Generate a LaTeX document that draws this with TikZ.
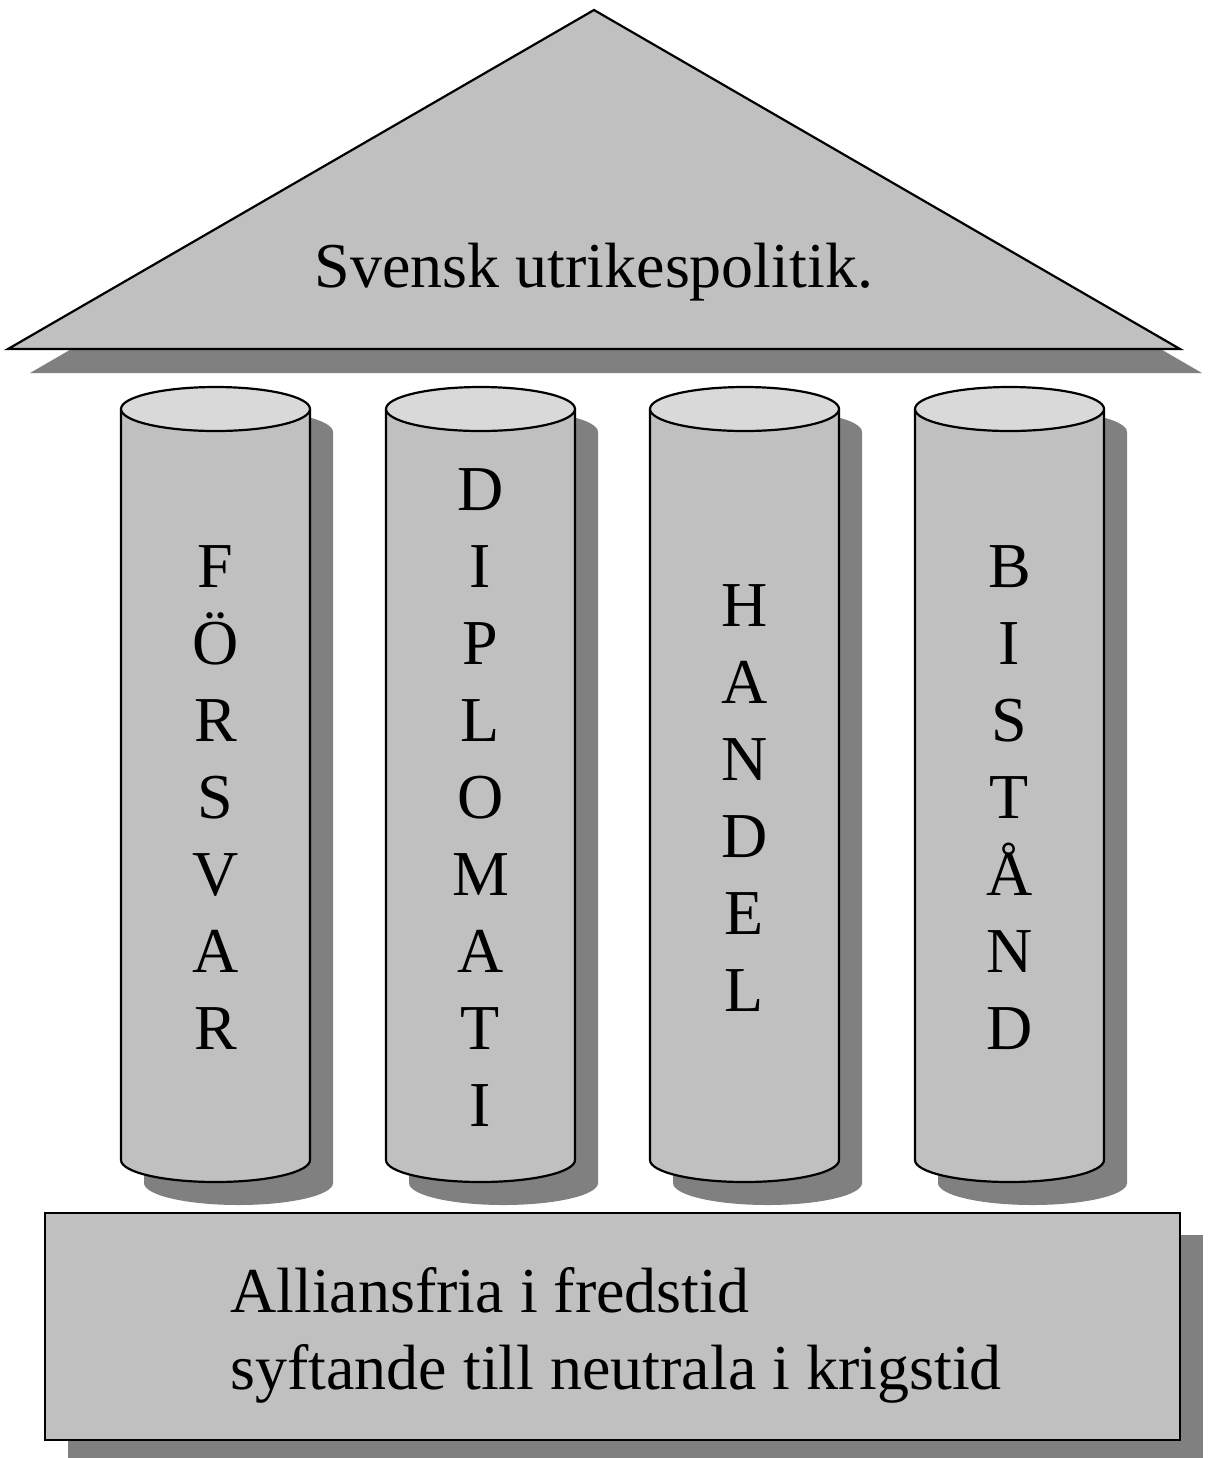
\documentclass[tikz,border=0pt]{standalone}
\usepackage{fontspec}
\setmainfont{Liberation Serif}
\definecolor{pelargra}{RGB}{192,192,192}
\definecolor{toppgra}{RGB}{217,217,217}
\definecolor{skugga}{RGB}{128,128,128}

\begin{document}
\begin{tikzpicture}[x=0.5pt,y=0.5pt,
    byggdel/.style={draw=black,line width=1.1pt,fill=pelargra},
    skuggdel/.style={fill=skugga},
    rubrik/.style={font=\fontsize{32}{38.5}\selectfont,inner sep=0pt}]
    \useasboundingbox (0,0) rectangle (1211,-1458);

    % taket
    \fill[skuggdel] (30,-373) -- (616,-34) -- (1202,-373) -- cycle;
    \draw[byggdel] (8,-349) -- (594,-10) -- (1180,-349) -- cycle;
    \node[rubrik,anchor=base] (tak) at (594,-287) {Svensk utrikespolitik.};

    % pelarna
    \foreach \x/\namn/\bokstaver in {215.5/forsvar/{F\\Ö\\R\\S\\V\\A\\R},
        480.5/diplomati/{D\\I\\P\\L\\O\\M\\A\\T\\I},
        744.5/handel/{H\\A\\N\\D\\E\\L},
        1009.5/bistand/{B\\I\\S\\T\\Å\\N\\D}}
    {
      \fill[skuggdel] (\x-71.5,-432) -- (\x-71.5,-1183)
        arc[start angle=180,end angle=360,x radius=94.5,y radius=22]
        -- (\x+117.5,-432)
        arc[start angle=0,end angle=180,x radius=94.5,y radius=22] -- cycle;
      \draw[byggdel] (\x-94.5,-409) -- (\x-94.5,-1160)
        arc[start angle=180,end angle=360,x radius=94.5,y radius=22]
        -- (\x+94.5,-409);
      \draw[byggdel,fill=toppgra] (\x,-409) ellipse[x radius=94.5,y radius=22];
      \node[rubrik,align=center] (\namn) at (\x,-798) {\bokstaver};
    }

    % grunden
    \fill[skuggdel] (68,-1235) rectangle (1203,-1458);
    \draw[byggdel] (45,-1213) rectangle (1180,-1440);
    \node[rubrik,align=left,anchor=base west] (grund) at (230,-1389)
      {Alliansfria i fredstid\\syftande till neutrala i krigstid};
\end{tikzpicture}
\end{document}
